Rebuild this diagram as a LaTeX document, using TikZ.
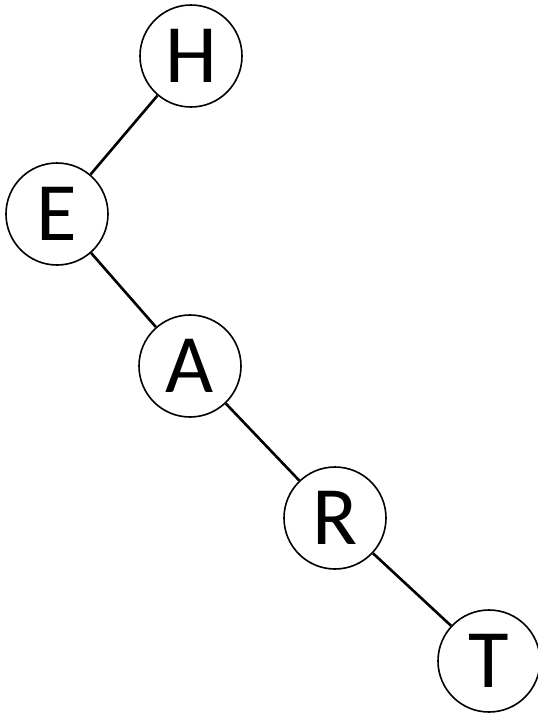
\documentclass[tikz,border=0pt]{standalone}
\usepackage{fontspec}
\setmainfont{Carlito}
\begin{document}
\begin{tikzpicture}[x=1pt,y=-1pt,
  vert/.style={circle,draw,line width=1.6pt,minimum size=102pt,inner sep=0pt,font=\fontsize{83}{83}\selectfont},
  edge/.style={line width=2.6pt}]
\useasboundingbox (0,0) rectangle (538,713);
\node[vert] (H) at (191,56) {H};
\node[vert] (E) at (57,214) {E};
\node[vert] (A) at (190,366) {A};
\node[vert] (R) at (335,518) {R};
\node[vert] (T) at (489,661) {T};
\draw[edge] (H) -- (E);
\draw[edge] (E) -- (A);
\draw[edge] (A) -- (R);
\draw[edge] (R) -- (T);
\end{tikzpicture}
\end{document}
